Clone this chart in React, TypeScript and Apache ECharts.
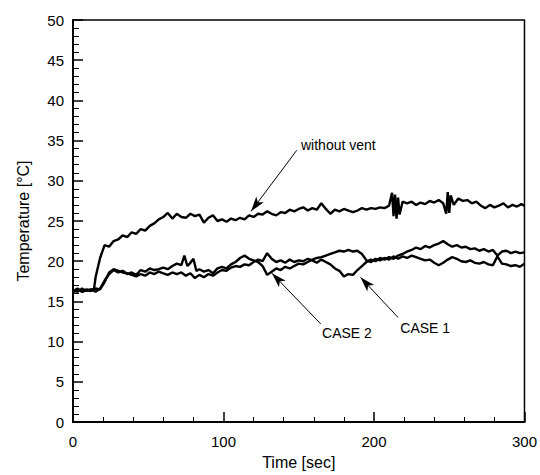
import React, { useEffect, useRef } from "react";
import * as echarts from "echarts";

// [time (sec), temperature (°C)]
const withoutVent: [number, number][] = [
  [0, 16.3], [3, 16.6], [6, 16.2], [9, 16.5], [12, 16.4], [14, 16.6], [15, 18.0], [18, 20.4], [21, 22.0], [24, 21.8],
  [27, 22.5], [30, 22.7], [33, 23.2], [36, 23.0], [39, 23.6], [42, 23.4], [45, 24.0], [48, 23.8], [51, 24.4], [54, 24.7],
  [57, 25.2], [60, 25.5], [63, 26.0], [66, 25.3], [69, 25.9], [72, 25.5], [75, 25.4], [78, 25.9], [81, 25.6], [84, 25.8],
  [87, 24.8], [90, 25.4], [93, 25.7], [96, 25.0], [99, 25.2], [102, 24.9], [105, 25.3], [108, 25.1], [111, 25.4], [114, 25.2],
  [117, 25.7], [120, 25.5], [123, 25.9], [126, 25.8], [129, 26.2], [132, 25.9], [135, 25.7], [138, 26.1], [141, 26.0], [144, 26.4],
  [147, 26.2], [150, 26.5], [153, 26.7], [156, 26.3], [159, 26.6], [162, 26.4], [165, 27.2], [168, 26.5], [171, 25.9], [174, 26.4],
  [177, 26.2], [180, 26.5], [183, 26.3], [186, 26.1], [189, 26.3], [192, 26.6], [195, 26.4], [198, 26.6], [201, 26.5], [204, 26.7],
  [207, 26.6], [210, 26.9], [212, 28.5], [213, 25.6], [214, 28.3], [215, 25.3], [216, 27.9], [217, 25.8], [219, 27.4], [222, 27.2],
  [225, 27.4], [228, 27.0], [231, 27.3], [234, 27.1], [237, 27.5], [240, 27.3], [243, 27.6], [246, 27.2], [248, 25.9], [249, 28.6],
  [250, 26.0], [251, 28.2], [253, 27.0], [256, 27.8], [259, 27.5], [262, 27.6], [265, 27.2], [268, 27.4], [271, 26.9], [274, 26.6],
  [277, 27.0], [280, 26.7], [283, 26.9], [286, 27.2], [289, 26.7], [292, 27.0], [295, 26.8], [298, 27.1], [300, 26.9],
];

const case1: [number, number][] = [
  [0, 16.1], [3, 16.5], [6, 16.2], [9, 16.4], [12, 16.3], [15, 16.6], [18, 16.5], [21, 17.4], [24, 18.6], [27, 19.0],
  [30, 18.8], [33, 18.6], [36, 18.5], [39, 18.3], [42, 18.1], [45, 18.4], [48, 18.2], [51, 18.6], [54, 18.4], [57, 18.7],
  [60, 18.5], [63, 18.3], [66, 18.6], [69, 18.4], [72, 18.6], [75, 18.2], [78, 18.5], [81, 17.9], [84, 18.3], [87, 18.0],
  [90, 18.4], [93, 18.2], [96, 18.6], [99, 18.9], [102, 18.8], [105, 19.2], [108, 19.4], [111, 19.3], [114, 19.6], [117, 19.5],
  [120, 19.9], [123, 20.2], [126, 20.0], [129, 21.0], [132, 20.3], [135, 19.9], [138, 20.1], [141, 19.8], [144, 20.2], [147, 19.9],
  [150, 20.1], [153, 20.0], [156, 20.3], [159, 20.1], [162, 19.8], [165, 20.2], [168, 19.9], [171, 19.6], [174, 19.1], [177, 18.8],
  [180, 18.1], [183, 18.4], [186, 18.3], [189, 18.9], [192, 19.4], [195, 19.9], [198, 20.2], [201, 20.0], [204, 20.4], [207, 20.2],
  [210, 20.5], [213, 20.3], [216, 20.7], [219, 20.9], [222, 21.2], [225, 21.4], [228, 21.7], [231, 21.5], [234, 21.9], [237, 21.7],
  [240, 22.0], [243, 22.2], [246, 22.5], [249, 22.1], [252, 21.8], [255, 22.0], [258, 21.7], [261, 21.8], [264, 21.5], [267, 21.6],
  [270, 21.3], [273, 21.5], [276, 21.2], [279, 21.4], [282, 20.7], [285, 21.2], [288, 21.3], [291, 21.0], [294, 21.2], [297, 21.0],
  [300, 21.1],
];

const case2: [number, number][] = [
  [0, 16.4], [3, 16.2], [6, 16.6], [9, 16.3], [12, 16.5], [15, 16.2], [18, 16.6], [21, 17.6], [24, 18.4], [27, 18.9],
  [30, 18.6], [33, 18.8], [36, 18.4], [39, 18.6], [42, 18.3], [45, 18.9], [48, 18.7], [51, 19.1], [54, 18.9], [57, 19.0],
  [60, 19.2], [63, 19.0], [66, 19.4], [69, 19.7], [72, 19.5], [74, 20.7], [76, 19.4], [78, 19.8], [80, 20.3], [82, 18.8],
  [84, 19.0], [87, 18.7], [90, 18.9], [93, 18.5], [96, 19.1], [99, 19.3], [102, 19.1], [105, 19.6], [108, 19.9], [111, 20.4],
  [114, 20.7], [117, 20.3], [120, 20.1], [123, 19.9], [126, 19.4], [129, 18.3], [132, 18.7], [135, 19.1], [138, 18.9], [141, 19.3],
  [144, 19.1], [147, 19.4], [150, 19.7], [153, 19.6], [156, 19.9], [159, 20.2], [162, 20.4], [165, 20.5], [168, 20.7], [171, 20.9],
  [174, 21.1], [177, 21.3], [180, 21.2], [183, 21.4], [186, 21.2], [189, 21.3], [192, 20.9], [195, 20.1], [198, 19.9], [201, 20.3],
  [204, 20.1], [207, 20.4], [210, 20.2], [213, 20.6], [216, 20.3], [219, 20.6], [222, 20.4], [225, 20.7], [228, 20.5], [231, 20.3],
  [234, 20.1], [237, 20.2], [240, 19.8], [243, 19.5], [246, 19.8], [249, 20.2], [252, 20.5], [255, 20.3], [258, 20.0], [261, 19.9],
  [264, 20.1], [267, 19.8], [270, 19.7], [273, 19.9], [276, 19.6], [279, 19.5], [282, 20.6], [285, 19.7], [288, 19.6], [291, 19.4],
  [294, 19.5], [297, 19.3], [300, 19.7],
];

// annotations: label, label anchor (data coords), arrow tail, arrow tip
const annLabels = ["without vent", "CASE 2", "CASE 1"];
const annLabelAt: [number, number][] = [[151.5, 33.6], [165.5, 11.9], [217.5, 12.6]];
const annTail: [number, number][] = [[148.7, 33.8], [164.6, 12.2], [216.0, 13.0]];
const annTip: [number, number][] = [[118.3, 26.2], [132.2, 18.5], [191.0, 18.0]];
const annVAlign = ["bottom", "top", "top"];

const FONT = "'Liberation Sans', Arial, Helvetica, sans-serif";

export default function App() {
  const ref = useRef<HTMLDivElement>(null);
  useEffect(() => {
    if (!ref.current) return;
    const chart = echarts.init(ref.current, undefined, { renderer: "svg" });
    const lineSeries = (name: string, data: [number, number][], withMark: boolean) => ({
      name,
      type: "line",
      data,
      showSymbol: false,
      symbol: "none",
      lineStyle: { color: "#000", width: 2.4 },
      itemStyle: { color: "#000" },
      markLine: withMark
        ? {
            silent: true,
            symbol: ["none", "arrow"],
            symbolSize: [7, 15],
            lineStyle: { color: "#000", width: 1, type: "solid" },
            label: { show: false },
            data: annTail.map((t, i) => [{ coord: t }, { coord: annTip[i] }]),
          }
        : undefined,
    });
    chart.setOption({
      animation: false,
      backgroundColor: "#fff",
      textStyle: { fontFamily: FONT },
      grid: {
        left: 73,
        right: 13,
        top: 20,
        bottom: 45,
        show: true,
        borderColor: "#000",
        borderWidth: 1.5,
        backgroundColor: "transparent",
      },
      xAxis: {
        type: "value",
        min: 0,
        max: 300,
        interval: 100,
        name: "Time [sec]",
        nameLocation: "middle",
        nameGap: 32,
        nameTextStyle: { fontSize: 16, color: "#000", fontFamily: FONT },
        axisLine: { lineStyle: { color: "#000", width: 2 } },
        axisTick: { inside: true, length: 10, lineStyle: { color: "#000", width: 1.5 } },
        minorTick: { show: true, splitNumber: 5, length: 5, lineStyle: { color: "#000", width: 1 } },
        splitLine: { show: false },
        axisLabel: { fontSize: 15, color: "#000", margin: 12, fontFamily: FONT },
      },
      yAxis: {
        type: "value",
        min: 0,
        max: 50,
        interval: 5,
        name: "Temperature [°C]",
        nameLocation: "middle",
        nameGap: 42,
        nameTextStyle: { fontSize: 16, color: "#000", fontFamily: FONT },
        axisLine: { lineStyle: { color: "#000", width: 2 } },
        axisTick: { inside: true, length: 10, lineStyle: { color: "#000", width: 1.5 } },
        minorTick: { show: true, splitNumber: 5, length: 6, lineStyle: { color: "#000", width: 1 } },
        splitLine: { show: false },
        axisLabel: { fontSize: 15, color: "#000", margin: 9, fontFamily: FONT },
      },
      series: [
        lineSeries("without vent", withoutVent, true),
        lineSeries("CASE 1", case1, false),
        lineSeries("CASE 2", case2, false),
      ],
    });
    const graphics = annLabels.map((txt, i) => {
      const p = chart.convertToPixel({ gridIndex: 0 }, annLabelAt[i]) as number[];
      return {
        type: "text",
        x: p[0],
        y: p[1],
        style: {
          text: txt,
          fill: "#000",
          font: `14px ${FONT}`,
          textAlign: "left",
          textVerticalAlign: annVAlign[i],
          verticalAlign: annVAlign[i],
        },
      };
    });
    chart.setOption({ graphic: graphics });
    return () => chart.dispose();
  }, []);
  return (
    <div
      ref={ref}
      style={{ position: "absolute", left: 0, top: 0, width: 540, height: 475 }}
    />
  );
}
